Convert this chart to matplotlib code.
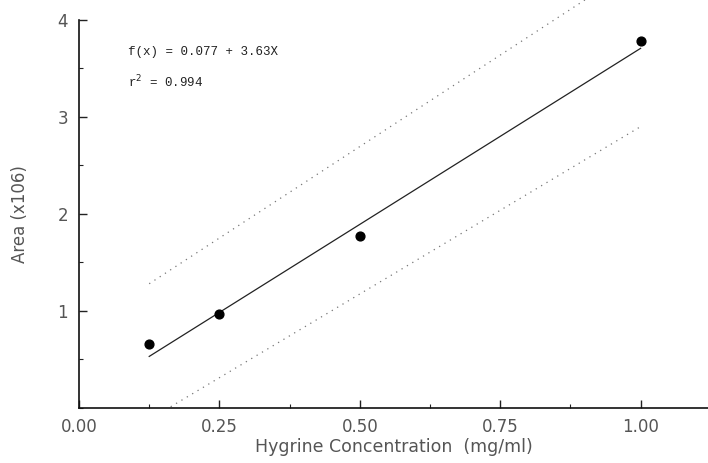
import matplotlib
matplotlib.use('Agg')
import matplotlib.pyplot as plt
from matplotlib.ticker import MultipleLocator

# Data
conc = [0.125, 0.25, 0.50, 1.00]
area = [0.66, 0.97, 1.77, 3.78]

# fitted line f(x) = 0.077 + 3.63x over the data range
fit_x = [0.125, 1.00]
fit_y = [0.077 + 3.63 * x for x in fit_x]

# dotted confidence band
upper_x = [0.125, 1.00]
upper_y = [1.28, 4.58]
lower_x = [0.125, 1.00]
lower_y = [-0.12, 2.90]

xticks = [0.00, 0.25, 0.50, 0.75, 1.00]
yticks = [1, 2, 3, 4]

fig = plt.figure(figsize=(7.08, 4.63), dpi=100)
ax = fig.add_axes([0.1116, 0.119, 0.8884, 0.838])

ax.plot(fit_x, fit_y, color='#222222', linewidth=0.9)
ax.plot(upper_x, upper_y, color='#777777', linestyle=(0, (1, 4)), linewidth=0.9, clip_on=False)
ax.plot(lower_x, lower_y, color='#777777', linestyle=(0, (1, 4)), linewidth=0.9)
ax.scatter(conc, area, s=40, color='black', zorder=3)

ax.set_xlim(0, 1.12)
ax.set_ylim(0, 4)
ax.set_xticks(xticks)
ax.set_xticklabels(['%.2f' % t for t in xticks])
ax.set_yticks(yticks)
ax.xaxis.set_minor_locator(MultipleLocator(0.125))
ax.yaxis.set_minor_locator(MultipleLocator(0.5))
ax.tick_params(which='both', direction='in', color='#222222', labelcolor='#555555', labelsize=12)
ax.tick_params(which='major', length=6, width=1)
ax.tick_params(which='minor', length=3, width=0.8)
ax.tick_params(axis='x', pad=7)
ax.tick_params(axis='y', pad=8)

for s in ['top', 'right']:
    ax.spines[s].set_visible(False)
for s in ['left', 'bottom']:
    ax.spines[s].set_linewidth(1.2)
    ax.spines[s].set_color('#111111')

ax.set_xlabel('Hygrine Concentration  (mg/ml)', fontsize=12.5, color='#555555', labelpad=2)
ax.set_ylabel('Area (x106)', fontsize=12, color='#555555', labelpad=20)

ax.text(0.0875, 3.67, 'f(x) = 0.077 + 3.63X', family='Liberation Mono', fontsize=9,
        color='#222222', va='center')
ax.text(0.0875, 3.36, 'r$^{2}$ = 0.994', family='Liberation Mono', fontsize=9,
        color='#222222', va='center')

plt.savefig('out.png', dpi=100)
